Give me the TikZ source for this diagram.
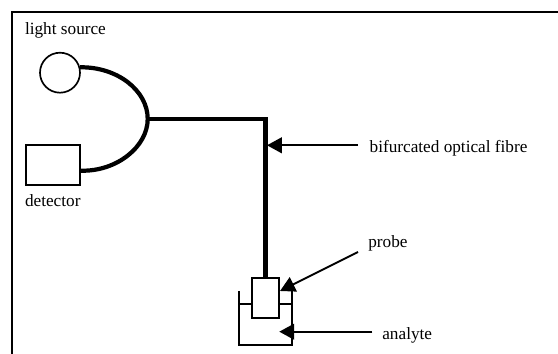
\documentclass[tikz,border=0pt]{standalone}
\usepackage{fontspec}
\setmainfont{Liberation Serif}
\usetikzlibrary{arrows.meta}
\usetikzlibrary{calc,shapes}
\tikzset{
	fibre/.style={line width=2.4pt},
	outline/.style={draw,line width=0.95pt,inner sep=0pt},
	cup/.style={line width=1pt},
	pointer/.style={-{Triangle[length=8.5pt,width=9pt]},line width=1.1pt},
	label/.style={inner sep=0pt,anchor=base west,font=\fontsize{9.8pt}{11pt}\selectfont}
}
\begin{document}
\begin{tikzpicture}
				\useasboundingbox (0,0) rectangle (11.16,7.08);
				% Cadre
				\draw [line width=1.1pt] (0.24,0) -- (0.24,6.84) -- (11.16,6.84);
				% Boites
				\node [outline,circle,minimum size=0.8cm] (source) at (1.2,5.626) {};
				\node [outline,rectangle,minimum width=1.08cm,minimum height=0.8cm] (detector) at (1.06,3.78) {};
				\node [outline,rectangle,minimum width=0.54cm,minimum height=0.8cm] (probe) at (5.304,1.12) {};
				\coordinate (split) at (2.954,4.7);
				\coordinate (bend) at (5.31,4.7);
				% Fibre
				\draw [fibre] (source.15) .. controls (2.34,5.746) and (2.954,5.274) .. (split);
				\draw [fibre] ($(detector.east)+(0,-0.114)$) .. controls (2.34,3.646) and (2.954,4.152) .. (split);
				\draw [fibre] (split) -- (bend) -- (bend |- probe.north);
				% Recipient
				\draw [cup] (4.774,1.26) -- (4.774,0.18) -- (5.84,0.18) -- (5.84,1.26);
				\draw [cup] (4.774,0.994) -- (probe.west |- 0,0.994);
				\draw [cup] (probe.east |- 0,0.994) -- (5.84,0.994);
				% Textes
				\node [label] (sourcetext) at (0.494,6.38) {light source};
				\node [label] (detectortext) at (0.494,2.946) {detector};
				\node [label] (fibretext) at (7.386,4.02) {bifurcated optical fibre};
				\node [label] (probetext) at (7.36,2.126) {probe};
				\node [label] (analytetext) at (7.64,0.28) {analyte};
				% Fleches
				\coordinate (fibrefrom) at (7.16,4.174);
				\coordinate (fibreto) at (5.34,4.174);
				\coordinate (probefrom) at (7.16,2.04);
				\coordinate (probeto) at ($(probe.east)+(0.01,0.14)$);
				\coordinate (analytefrom) at (7.446,0.446);
				\coordinate (analyteto) at (5.586,0.446);
				\draw [pointer] (fibrefrom) -- (fibreto);
				\draw [pointer] (probefrom) -- (probeto);
				\draw [pointer] (analytefrom) -- (analyteto);
				\end{tikzpicture}
\end{document}
